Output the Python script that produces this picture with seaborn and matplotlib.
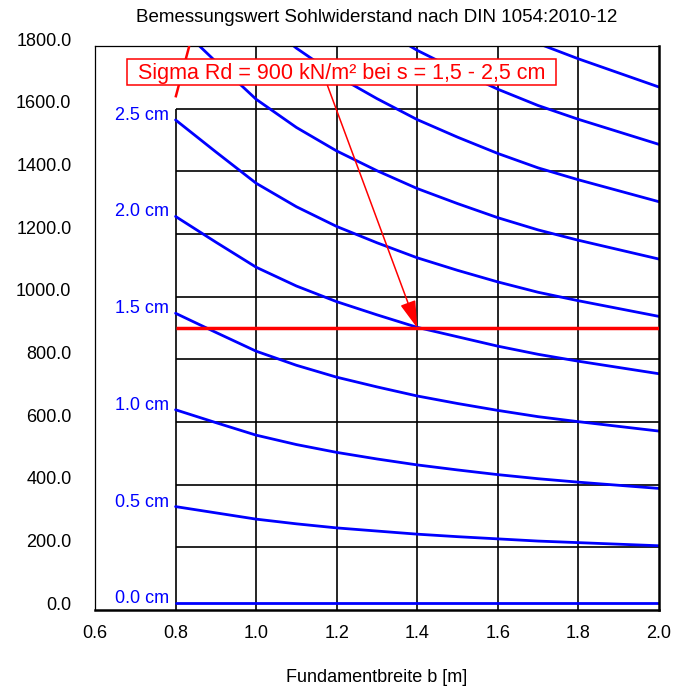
import matplotlib
matplotlib.use("Agg")
import matplotlib.pyplot as plt
import numpy as np
import pandas as pd
import seaborn as sns
from matplotlib.patches import Rectangle
from matplotlib.transforms import ScaledTranslation

# Foundation width b [m]
b_m = [0.8, 0.9, 1.0, 1.1, 1.2, 1.3, 1.4, 1.5, 1.6, 1.7, 1.8, 1.9, 2.0]

# Bearing resistance [kN/m²] for each settlement s
sigma_s00 = [22, 22, 22, 22, 22, 22, 22, 22, 22, 22, 22, 22, 22]
sigma_s05 = [330, 310, 290, 275, 262, 252, 242, 234, 227, 220, 215, 210, 205]
sigma_s10 = [639, 598, 558, 528, 503, 482, 463, 447, 432, 419, 408, 398, 388]
sigma_s15 = [947, 886, 826, 781, 743, 712, 683, 659, 637, 617, 601, 586, 571]
sigma_s20 = [1256, 1174, 1094, 1034, 984, 942, 902, 872, 842, 816, 794, 774, 754]
sigma_s25 = [1564, 1462, 1362, 1287, 1224, 1172, 1124, 1084, 1047, 1014, 987, 962, 937]
sigma_s30 = [1873, 1750, 1630, 1540, 1465, 1402, 1345, 1297, 1252, 1213, 1180, 1150, 1120]
sigma_s35 = [2181, 2038, 1898, 1793, 1705, 1632, 1565, 1509, 1457, 1411, 1373, 1338, 1303]
sigma_s40 = [2490, 2326, 2166, 2046, 1946, 1862, 1786, 1722, 1662, 1610, 1566, 1526, 1486]
sigma_s45 = [2798, 2614, 2434, 2299, 2186, 2092, 2006, 1934, 1867, 1808, 1759, 1714, 1669]

settlement_labels = ["0.0 cm", "0.5 cm", "1.0 cm", "1.5 cm", "2.0 cm",
                     "2.5 cm", "3.0 cm", "3.5 cm", "4.0 cm", "4.5 cm"]
labelled_curves = ["0.0 cm", "0.5 cm", "1.0 cm", "1.5 cm", "2.0 cm", "2.5 cm"]

# Red limit curve at the upper left
limit_b = [0.8, 0.834]
limit_sigma = [1636, 1800]

# Design value line and annotation
design_value = 900
design_b = [0.8, 2.0]
design_point = (1.4, 900)
note_text = "Sigma Rd = 900 kN/m² bei s = 1,5 - 2,5 cm"

x_ticks = [0.6, 0.8, 1.0, 1.2, 1.4, 1.6, 1.8, 2.0]
y_ticks = [0, 200, 400, 600, 800, 1000, 1200, 1400, 1600, 1800]

series = [sigma_s00, sigma_s05, sigma_s10, sigma_s15, sigma_s20,
          sigma_s25, sigma_s30, sigma_s35, sigma_s40, sigma_s45]
df = pd.DataFrame({
    "b": np.tile(b_m, len(series)),
    "sigma": np.concatenate(series),
    "s": np.repeat(settlement_labels, len(b_m)),
})

sns.set_theme(style="white")
plt.rcParams["font.family"] = ["Liberation Sans", "DejaVu Sans"]

fig = plt.figure(figsize=(6.88, 6.90), dpi=100)
ax = fig.add_axes([95 / 688, 80 / 690, 564 / 688, 564 / 690])

ax.set_xlim(0.6, 2.0)
ax.set_ylim(0, 1800)

# Grid drawn only over the chart region b >= 0.8
grid_kw = dict(color="black", lw=1.2, zorder=1)
ax.hlines([200, 400, 600, 800, 1000, 1200, 1400, 1600], 0.8, 2.0, **grid_kw)
ax.vlines([1.0, 1.2, 1.4, 1.6, 1.8], 0, 1800, **grid_kw)
ax.vlines([0.8], 0, 1600, **grid_kw)

sns.lineplot(data=df, x="b", y="sigma", hue="s", estimator=None, sort=False,
             palette={lab: "#0000ff" for lab in settlement_labels},
             legend=False, lw=2.0, ax=ax, zorder=2)

# Curve labels left of the grid
first_vals = dict(zip(settlement_labels, [s[0] for s in series]))
for lab in labelled_curves:
    ax.text(0.783, first_vals[lab], lab, color="#0000ff", fontsize=13,
            ha="right", va="baseline", zorder=6)

ax.plot(limit_b, limit_sigma, color="red", lw=1.8, zorder=3,
        solid_capstyle="butt")
ax.hlines(design_value, design_b[0], design_b[1], color="red", lw=2.5, zorder=3)

ax.annotate("", xy=design_point, xytext=(1.177, 1674),
            arrowprops=dict(arrowstyle="-|>,head_length=1.2,head_width=0.35",
                            color="red", lw=1.1, shrinkA=0, shrinkB=0,
                            mutation_scale=14),
            zorder=4)

box_x0, box_x1 = 0.679, 1.744
box_y0, box_y1 = 1674, 1757
ax.add_patch(Rectangle((box_x0, box_y0), box_x1 - box_x0, box_y1 - box_y0,
                       facecolor="white", edgecolor="red", lw=1.1, zorder=5))
ax.text((box_x0 + box_x1) / 2, (box_y0 + box_y1) / 2 - 4, note_text,
        color="red", fontsize=15.5, ha="center", va="center", zorder=6)

ax.set_xticks(x_ticks)
ax.set_xticklabels([f"{v:.1f}" for v in x_ticks])
ax.set_yticks(y_ticks)
ax.set_yticklabels([f"{v:.1f}" for v in y_ticks])
ax.tick_params(axis="both", length=0, labelsize=13, colors="black")
ax.tick_params(axis="y", pad=17)
ax.tick_params(axis="x", pad=11)

ax.set_xlabel("Fundamentbreite b [m]", fontsize=13, labelpad=19, color="black")
ax.set_ylabel("")
ax.set_title("Bemessungswert Sohlwiderstand nach DIN 1054:2010-12",
             fontsize=13.5, pad=17, color="black")

for side in ["left", "top"]:
    ax.spines[side].set_linewidth(0.9)
    ax.spines[side].set_color("black")
for side in ["right", "bottom"]:
    ax.spines[side].set_linewidth(1.8)
    ax.spines[side].set_color("black")

# Y tick labels sit slightly above their tick values
offset = ScaledTranslation(0, 7 / 100, fig.dpi_scale_trans)
for lbl in ax.get_yticklabels():
    lbl.set_transform(lbl.get_transform() + offset)

fig.savefig("out.png", dpi=100)
